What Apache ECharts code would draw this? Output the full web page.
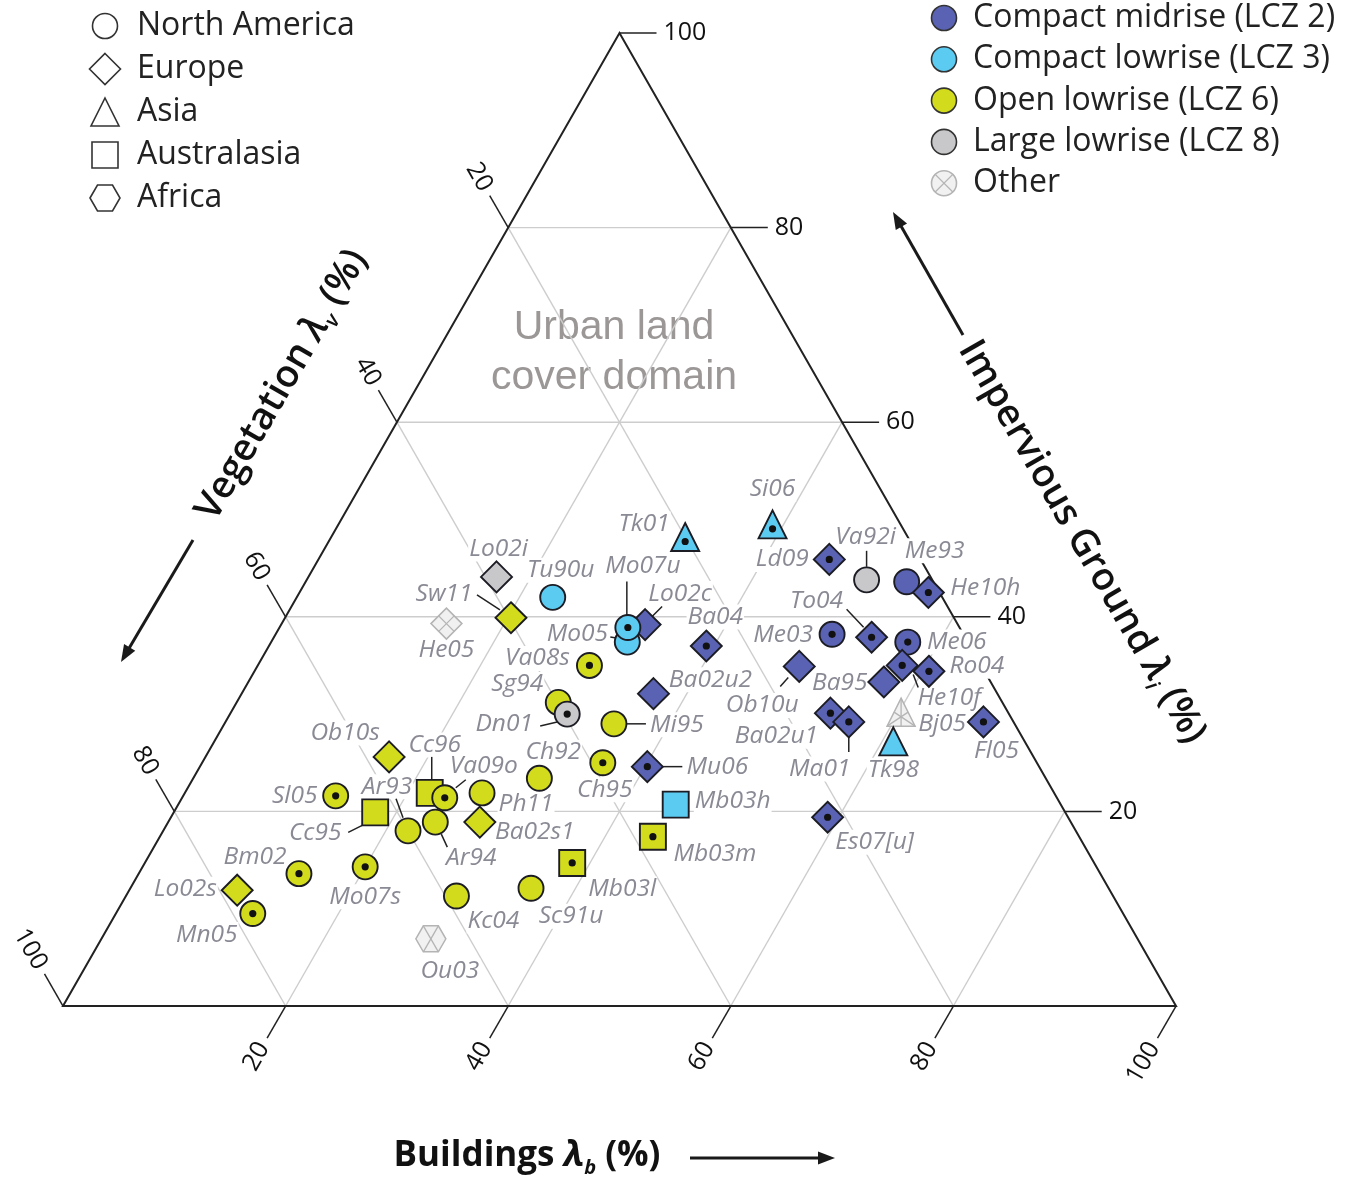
<!DOCTYPE html>
<html>
<head>
<meta charset="utf-8">
<script src="https://cdn.jsdelivr.net/npm/echarts@6/dist/echarts.min.js"></script>
<style>
html,body{margin:0;padding:0;background:#fff}
#chart{width:1363px;height:1178px}
</style>
</head>
<body>
<div id="chart"></div>
<script>
// Site codes, drawn in this order (later sites sit on top)
const sites = ['Lo02i','Sw11','He05','Tu90u','Mo05','Lo02c','Mo07u','Ba04','Va08s','Sg94','Dn01','Mi95','Ba02u2',
  'Tk01','Si06','Ld09','Va92i','Me93','He10h','Me03','To04','Me06','Ob10u','Ba95','He10f','Ro04','Ba02u1','Ma01',
  'Bj05','Tk98','Fl05','Ob10s','Cc96','Va09o','Sl05','Cc95','Ar93','Ar94','Ph11','Ba02s1','Bm02','Mo07s','Lo02s',
  'Mn05','Kc04','Ou03','Ch92','Ch95','Mu06','Mb03h','Mb03m','Mb03l','Sc91u','Es07[u]'];
// Building plan-area fraction (%)
const buildings = [16.9,20.3,14.8,23.0,32.0,32.7,31.3,39.3,29.8,28.9,30.3,35.0,37.0,
  31.8,39.0,45.9,50.3,54.0,56.5,50.0,53.7,57.2,48.7,57.1,57.9,60.6,53.9,56.0,
  60.2,61.0,68.1,16.5,22.0,23.6,13.7,18.1,22.0,24.0,26.7,28.0,14.4,20.0,9.7,
  12.3,29.7,29.6,31.1,36.0,40.2,44.7,44.3,38.4,36.0,59.0];
// Impervious ground plan-area fraction (%)
const impervious = [44.1,39.9,39.3,42.0,37.4,39.2,38.9,37.0,35.0,31.2,30.0,29.0,32.1,
  48.2,49.5,45.9,43.8,43.6,42.5,38.2,37.9,37.4,34.9,33.3,35.0,34.4,30.1,29.2,
  30.2,27.2,29.2,25.6,21.9,21.4,21.6,19.9,18.0,18.9,21.9,18.9,13.6,14.3,11.9,
  9.5,11.3,6.9,23.4,25.0,24.6,20.7,17.4,14.7,12.1,19.4];
// Vegetation is the remainder: 100 - buildings - impervious
const vegetation = buildings.map((b, k) => 100 - b - impervious[k]);
// Continent of each site
const region = ['EU','EU','EU','NA','NA','EU','NA','EU','NA','NA','NA','NA','EU',
  'AS','AS','EU','NA','NA','EU','NA','EU','NA','EU','EU','EU','EU','EU','EU',
  'AS','AS','EU','EU','AU','NA','NA','AU','NA','NA','NA','EU','NA','NA','EU',
  'NA','NA','AF','NA','NA','EU','AU','AU','AU','NA','EU'];
// Local climate zone (0 = other)
const lcz = [8,6,0,3,3,2,3,2,6,6,8,6,2,
  3,3,2,8,2,2,2,2,2,2,2,2,2,2,2,
  0,3,2,6,6,6,6,6,6,6,6,6,6,6,6,
  6,6,0,6,6,2,3,6,6,6,2];
// Sites flagged with a centre dot
const dotted = [0,0,0,0,0,0,1,1,1,0,1,0,0,
  1,1,1,0,0,1,1,1,1,0,0,1,1,1,1,
  0,0,1,0,0,1,1,0,0,0,0,0,1,1,0,
  1,0,0,0,1,1,0,1,1,0,1];
const axisTicks = [20, 40, 60, 80, 100];
const gridSteps = [20, 40, 60, 80];
const regionNames = ['North America','Europe','Asia','Australasia','Africa'];
const regionKeys = ['NA','EU','AS','AU','AF'];
const lczNames = ['Compact midrise (LCZ 2)','Compact lowrise (LCZ 3)','Open lowrise (LCZ 6)','Large lowrise (LCZ 8)','Other'];
const lczKeys = [2,3,6,8,0];

// ---- styling ----
const lczFill = {2:'#5a63b3', 3:'#5ccbf2', 6:'#d3dc1c', 8:'#c8c8ca', 0:'#f1f1f1'};
const lczStroke = {2:'#1c1c24', 3:'#1c1c24', 6:'#1c1c24', 8:'#1c1c24', 0:'#b4b4b4'};
const FONT = '"Open Sans", "Noto Sans", sans-serif';
const labelColor = '#8a8a95';

// label offsets (px from the marker) and leader segments
const labelPlace = {
 'Lo02i':[2,-28],'Sw11':[-67,-24],'He05':[0,26],'Tu90u':[8,-27],'Mo05':[-50,-8],'Lo02c':[35,-31],'Mo07u':[15,-61],
 'Ba04':[9,-29],'Va08s':[-52,-7],'Sg94':[-41,-18],'Dn01':[-63,10],'Mi95':[63,1],'Ba02u2':[57,-14],'Tk01':[-41,-13],
 'Si06':[0,-35],'Ld09':[-47,0],'Va92i':[-1,-43],'Me93':[28,-31],'He10h':[57,-4],'Me03':[-49,1],'To04':[-55,-36],
 'Me06':[49,0],'Ob10u':[-37,39],'Ba95':[-44,1],'He10f':[47,33],'Ro04':[48,-5],'Ba02u1':[-54,23],'Ma01':[-29,47],
 'Bj05':[41,12],'Tk98':[0,29],'Fl05':[13,29],'Ob10s':[-44,-24],'Cc96':[5,-48],'Va09o':[39,-32],'Sl05':[-41,0],
 'Cc95':[-60,21],'Ar93':[-21,-44],'Ar94':[36,36],'Ph11':[44,11],'Ba02s1':[55,10],'Bm02':[-44,-17],'Mo07s':[0,30],
 'Lo02s':[-52,-1],'Mn05':[-46,21],'Kc04':[37,25],'Ou03':[19,32],'Ch92':[14,-26],'Ch95':[2,27],'Mu06':[70,0],
 'Mb03h':[57,-4],'Mb03m':[62,17],'Mb03l':[50,26],'Sc91u':[40,28],'Es07[u]':[47,25]
};
const leaders = {
 'Sw11':[-34,-23,-11,-8],'Mo07u':[-1,-46,-1,-10],'Lo02c':[17,-18,7,-8],'Mo05':[-17,-5,-11,-4],'Dn01':[-27,12,-10,8],
 'Mi95':[13,0,32,0],'Va92i':[0,-29,0,-13],'To04':[-25,-28,-8,-10],'Ob10u':[-19,20,-11,11],'He10f':[11,9,16,22],
 'Ma01':[0,15,0,30],'Mu06':[14,0,35,0],'Ar94':[6,12,12,25],'Va09o':[11,-10,21,-18],'Cc96':[2,-36,2,-13],
 'Ar93':[-12,-32,-5,-13],'Cc95':[-27,20,-13,13]
};

// marker outline for each continent
function shapeEls(kind, cx, cy, fill, stroke, lw, other) {
  const s = {fill: fill, stroke: stroke, lineWidth: lw};
  const ls = {stroke: stroke, lineWidth: 1.3};
  const L = (x1,y1,x2,y2) => ({type:'line', shape:{x1,y1,x2,y2}, style: ls});
  let els = [];
  if (kind === 'NA') {
    els.push({type:'circle', shape:{cx, cy, r:12.5}, style:s});
    if (other) { const d = 8.8; els.push(L(cx-d,cy-d,cx+d,cy+d), L(cx+d,cy-d,cx-d,cy+d)); }
  } else if (kind === 'EU') {
    const h = 15.5;
    els.push({type:'polygon', shape:{points:[[cx,cy-h],[cx+h,cy],[cx,cy+h],[cx-h,cy]]}, style:s});
    if (other) { const d = h/2; els.push(L(cx-d,cy-d,cx+d,cy+d), L(cx+d,cy-d,cx-d,cy+d)); }
  } else if (kind === 'AS') {
    const a = [cx, cy-14], b = [cx+14, cy+14], c = [cx-14, cy+14];
    els.push({type:'polygon', shape:{points:[a,b,c]}, style:s});
    if (other) {
      els.push(L(a[0],a[1],cx,cy+14), L(b[0],b[1],(a[0]+c[0])/2,(a[1]+c[1])/2), L(c[0],c[1],(a[0]+b[0])/2,(a[1]+b[1])/2));
    }
  } else if (kind === 'AU') {
    els.push({type:'rect', shape:{x:cx-13, y:cy-13, width:26, height:26}, style:s});
  } else if (kind === 'AF') {
    els.push({type:'polygon', shape:{points:[[cx-15,cy],[cx-7.5,cy-13],[cx+7.5,cy-13],[cx+15,cy],[cx+7.5,cy+13],[cx-7.5,cy+13]]}, style:s});
    if (other) els.push(L(cx-7.5,cy-13,cx+7.5,cy+13), L(cx+7.5,cy-13,cx-7.5,cy+13));
  }
  return els;
}

// ternary (buildings, impervious) -> plane coordinates on the hidden cartesian axes
const siteData = sites.map((s, k) => [buildings[k] + impervious[k] / 2, impervious[k], k]);

const chart = echarts.init(document.getElementById('chart'), null, {renderer: 'canvas'});
const P = (api, b, i) => api.coord([b + i / 2, i]);

function arrow(x1, y1, x2, y2) {
  const dx = x2 - x1, dy = y2 - y1, len = Math.hypot(dx, dy);
  const ux = dx / len, uy = dy / len, hl = 17, hw = 6.5;
  const bx = x2 - ux * hl, by = y2 - uy * hl;
  return {type:'group', children:[
    {type:'line', shape:{x1, y1, x2: bx + ux * 2, y2: by + uy * 2}, style:{stroke:'#1a1a1a', lineWidth:3}},
    {type:'polygon', shape:{points:[[x2,y2],[bx - uy*hw, by + ux*hw],[bx + uy*hw, by - ux*hw]]}, style:{fill:'#1a1a1a'}}
  ]};
}

const graphics = [];
// continent legend
regionKeys.forEach((key, n) => {
  const y = 26 + n * 43;
  graphics.push({type:'group', children: shapeEls(key, 105, y, '#fff', '#333', 1.6, false)});
  graphics.push({type:'text', x:137, y:y, style:{text: regionNames[n], fontSize:32, fontFamily:FONT, fill:'#222', verticalAlign:'middle'}});
});
// climate zone legend
lczKeys.forEach((key, n) => {
  const y = 18 + n * 41.3;
  graphics.push({type:'group', children: shapeEls('NA', 944, y, lczFill[key], key === 0 ? '#b4b4b4' : '#333', 1.6, key === 0)});
  graphics.push({type:'text', x:973, y:y, style:{text: lczNames[n], fontSize:32, fontFamily:FONT, fill:'#222', verticalAlign:'middle'}});
});
// axis titles
const titleRich = {
  l: {fontSize: 38, fontStyle: 'italic', fontWeight: 600, fontFamily: FONT, fill: '#111'},
  s: {fontSize: 21, fontStyle: 'italic', fontWeight: 600, fontFamily: FONT, fill: '#111', padding: [24, 0, 0, 0]}
};
graphics.push({type:'text', x:282, y:385, rotation: Math.PI/3,
  style:{text:'Vegetation {l|λ}{s|v} (%)', rich: titleRich, fontSize:38, fontWeight:600, fontFamily:FONT, fill:'#111', align:'center', verticalAlign:'middle'}});
graphics.push({type:'text', x:1082, y:542, rotation: -Math.PI/3,
  style:{text:'Impervious Ground {l|λ}{s|i} (%)', rich: titleRich, fontSize:38, fontWeight:600, fontFamily:FONT, fill:'#111', align:'center', verticalAlign:'middle'}});
graphics.push({type:'text', x:527, y:1156,
  style:{text:'Buildings {l|λ}{s|b} (%)', rich: {
    l: {fontSize: 36, fontStyle: 'italic', fontWeight: 'bold', fontFamily: FONT, fill: '#111'},
    s: {fontSize: 20, fontStyle: 'italic', fontWeight: 'bold', fontFamily: FONT, fill: '#111', padding: [24, 0, 0, 0]}
  }, fontSize:35, fontWeight:'bold', fontFamily:FONT, fill:'#111', align:'center', verticalAlign:'middle'}});
graphics.push(arrow(193, 540, 121, 662));
graphics.push(arrow(963, 335, 893, 212));
graphics.push(arrow(690, 1158, 835, 1158));
// domain caption
graphics.push({type:'text', x:614, y:353, z:-1, style:{text:'Urban land\ncover domain', fontSize:41, lineHeight:50,
  fontFamily:'"Liberation Sans", Arial, sans-serif', fill:'#9c9797', align:'center', verticalAlign:'middle'}});

chart.setOption({
  animation: false,
  backgroundColor: '#fff',
  grid: {left: 63, right: 187, top: 33, bottom: 172},
  xAxis: {type:'value', min:0, max:100, show:false},
  yAxis: {type:'value', min:0, max:100, show:false},
  graphic: graphics,
  series: [
    { // internal grid
      type:'custom', z:1, silent:true,
      data: gridSteps.map(t => [t, 0]),
      renderItem(params, api) {
        const t = api.value(0);
        const st = {stroke:'#cdcdcd', lineWidth:1.4};
        const seg = (a, b) => ({type:'line', shape:{x1:a[0], y1:a[1], x2:b[0], y2:b[1]}, style:st});
        return {type:'group', children:[
          seg(P(api,0,t), P(api,100-t,t)),
          seg(P(api,t,0), P(api,t,100-t)),
          seg(P(api,100-t,0), P(api,0,100-t))
        ]};
      }
    },
    { // frame
      type:'custom', z:2, silent:true,
      data: [[0, 0]],
      renderItem(params, api) {
        return {type:'polygon', shape:{points:[P(api,0,0), P(api,100,0), P(api,0,100)]},
          style:{fill:'none', stroke:'#222', lineWidth:2}};
      }
    },
    { // ticks and tick labels on the three sides
      type:'custom', z:2, silent:true,
      data: axisTicks.map(t => [t, 0]),
      renderItem(params, api) {
        const t = api.value(0), tl = 37, gap = 7;
        const ch = [];
        const tick = (base, ux, uy, rot, align) => {
          const ex = base[0] + ux * tl, ey = base[1] + uy * tl;
          ch.push({type:'line', shape:{x1:base[0], y1:base[1], x2:ex, y2:ey}, style:{stroke:'#222', lineWidth:1.5}});
          ch.push({type:'text', x: ex + ux * gap, y: ey + uy * gap, rotation: rot,
            style:{text:String(t), fontSize:25, fontFamily:FONT, fill:'#111', align:align, verticalAlign:'middle'}});
        };
        tick(P(api,t,0), -0.5, 0.866, Math.PI/3, 'right');      // buildings
        tick(P(api,0,100-t), -0.5, -0.866, -Math.PI/3, 'right'); // vegetation
        tick(P(api,100-t,t), 1, 0, 0, 'left');                   // impervious
        return {type:'group', children: ch};
      }
    },
    { // site codes
      type:'custom', z:3, silent:true,
      data: siteData,
      renderItem(params, api) {
        const k = api.value(2), p = api.coord([api.value(0), api.value(1)]);
        const o = labelPlace[sites[k]] || [0, -26];
        return {type:'text', x: p[0] + o[0], y: p[1] + o[1],
          style:{text: sites[k], fontSize:24.5, fontStyle:'italic', fontFamily:FONT, fill:labelColor,
            align:'center', verticalAlign:'middle', backgroundColor:'#fff', padding:[0,1]}};
      }
    },
    { // leader lines
      type:'custom', z:4, silent:true,
      data: siteData.filter(d => leaders[sites[d[2]]]),
      renderItem(params, api) {
        const k = api.value(2), p = api.coord([api.value(0), api.value(1)]);
        const l = leaders[sites[k]];
        return {type:'line', shape:{x1:p[0]+l[0], y1:p[1]+l[1], x2:p[0]+l[2], y2:p[1]+l[3]},
          style:{stroke:'#222', lineWidth:1.5}};
      }
    },
    { // site markers
      type:'custom', z:5, silent:true,
      data: siteData,
      renderItem(params, api) {
        const k = api.value(2), p = api.coord([api.value(0), api.value(1)]);
        const z = lcz[k];
        const els = shapeEls(region[k], p[0], p[1], lczFill[z], lczStroke[z], z === 0 ? 1.5 : 1.9, z === 0);
        if (dotted[k]) {
          const dy = region[k] === 'AS' ? 4.5 : 0;
          els.push({type:'circle', shape:{cx:p[0], cy:p[1] + dy, r:3.6}, style:{fill:'#111'}});
        }
        return {type:'group', children: els};
      }
    }
  ]
});
</script>
</body>
</html>
